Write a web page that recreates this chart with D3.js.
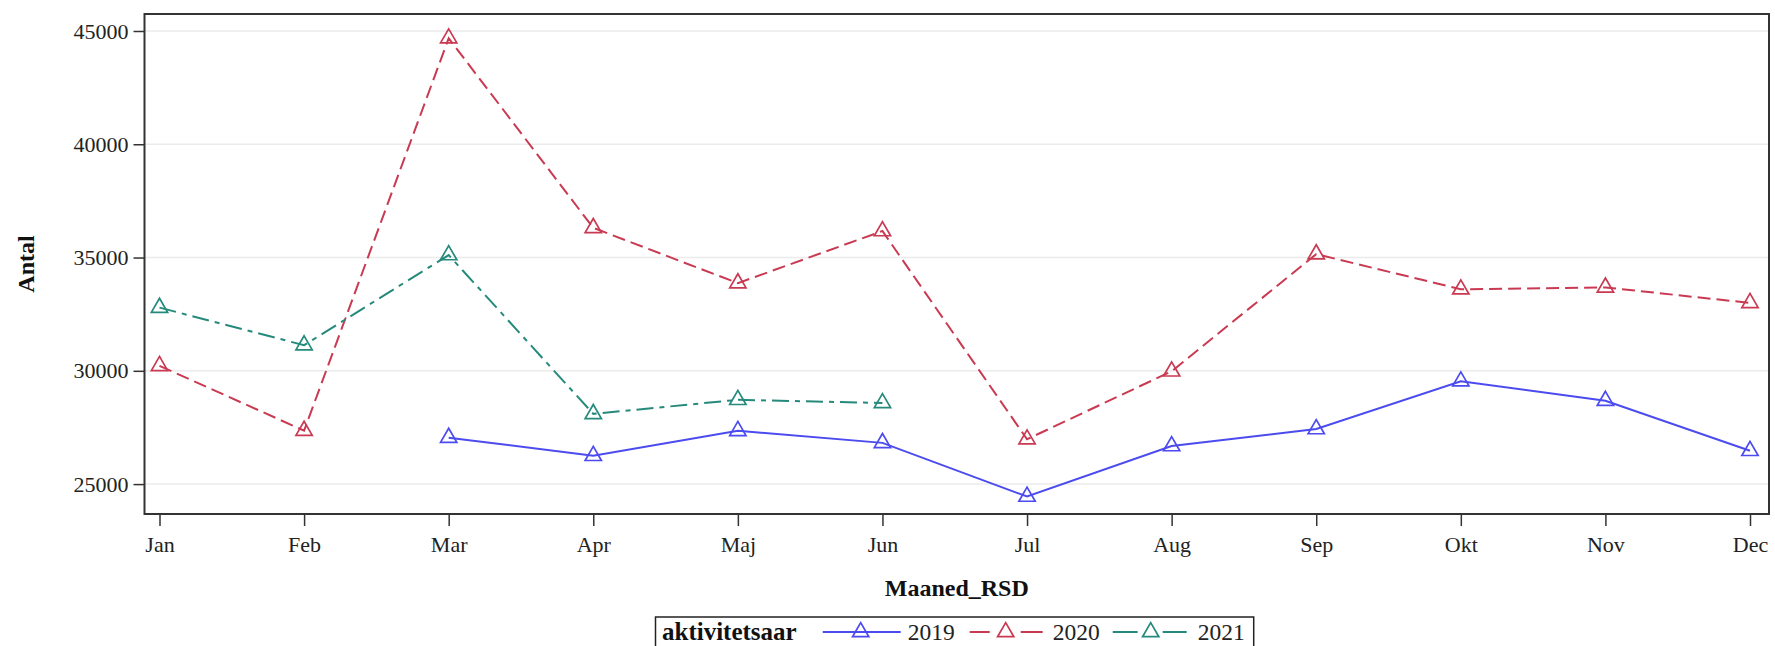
<!DOCTYPE html>
<html>
<head>
<meta charset="utf-8">
<script src="https://cdn.jsdelivr.net/npm/d3@7"></script>
<style>
  html, body { margin: 0; padding: 0; background: #fff; }
  svg { display: block; font-family: "Liberation Serif", "Times New Roman", serif; }
</style>
</head>
<body>
<svg id="chart" width="1775" height="646"></svg>
<script>
// months on the x axis
var months = ['Jan', 'Feb', 'Mar', 'Apr', 'Maj', 'Jun', 'Jul', 'Aug', 'Sep', 'Okt', 'Nov', 'Dec'];
var yTicks = [25000, 30000, 35000, 40000, 45000];

// aktivitetsaar series (null = no data)
var years = ['2019', '2020', '2021'];
var values2019 = [null, null, 27050, 26250, 27350, 26820, 24450, 26680, 27430, 29540, 28680, 26470];
var values2020 = [30220, 27360, 44680, 36310, 33870, 36170, 26980, 29980, 35150, 33600, 33680, 33000];
var values2021 = [32790, 31130, 35110, 28100, 28720, 28580, null, null, null, null, null, null];

var colors = ['#4b4bef', '#c93a52', '#258a7b'];
var dashes = [null, '13,6', '17,6,5,6'];
// legend sample segments, [from, to] along a 76px sample line
var legendSegments = [[[0, 78]], [[2, 22], [53, 75]], [[0, 25], [50, 74]]];

var svg = d3.select('#chart');

var plot = {left: 144.5, right: 1769, top: 14, bottom: 514};

var x = d3.scalePoint()
    .domain(months)
    .range([159.5, 1750]);

var y = d3.scaleLinear()
    .domain([23680, 45750])
    .range([plot.bottom, plot.top]);

// horizontal grid lines
svg.append('g')
    .selectAll('line')
    .data(yTicks)
    .join('line')
    .attr('x1', plot.left)
    .attr('x2', plot.right)
    .attr('y1', d => y(d))
    .attr('y2', d => y(d))
    .attr('stroke', '#ebebeb')
    .attr('stroke-width', 1.5);

// y axis
var yAxis = svg.append('g')
    .attr('transform', 'translate(' + plot.left + ',0)')
    .call(d3.axisLeft(y).tickValues(yTicks).tickSize(11).tickPadding(5).tickFormat(d3.format('d')));
yAxis.select('.domain').remove();
yAxis.selectAll('line').attr('stroke', '#333').attr('stroke-width', 1.5);
yAxis.selectAll('text')
    .attr('font-size', 22)
    .attr('fill', '#222')
    .attr('font-family', '"Liberation Serif", serif');

// x axis
var xAxis = svg.append('g')
    .attr('transform', 'translate(0,' + plot.bottom + ')')
    .call(d3.axisBottom(x).tickSize(12).tickPadding(10));
xAxis.select('.domain').remove();
xAxis.selectAll('line').attr('stroke', '#333').attr('stroke-width', 1.5);
xAxis.selectAll('text')
    .attr('font-size', 22)
    .attr('fill', '#222')
    .attr('font-family', '"Liberation Serif", serif');

// frame round the plot
svg.append('rect')
    .attr('x', plot.left)
    .attr('y', plot.top)
    .attr('width', plot.right - plot.left)
    .attr('height', plot.bottom - plot.top)
    .attr('fill', 'none')
    .attr('stroke', '#333')
    .attr('stroke-width', 2);

// axis titles
svg.append('text')
    .attr('transform', 'translate(34,' + ((plot.top + plot.bottom) / 2) + ') rotate(-90)')
    .attr('text-anchor', 'middle')
    .attr('font-size', 24)
    .attr('font-weight', 'bold')
    .attr('fill', '#111')
    .text('Antal');

svg.append('text')
    .attr('x', (plot.left + plot.right) / 2)
    .attr('y', 596)
    .attr('text-anchor', 'middle')
    .attr('font-size', 24)
    .attr('font-weight', 'bold')
    .attr('fill', '#111')
    .text('Maaned_RSD');

// series
var series = [values2019, values2020, values2021].map(function(vals, i) {
    return {
        year: years[i],
        color: colors[i],
        dash: dashes[i],
        segments: legendSegments[i],
        points: vals.map((v, j) => ({month: months[j], value: v})).filter(p => p.value !== null)
    };
});

var line = d3.line()
    .x(d => x(d.month))
    .y(d => y(d.value));

var triangle = d3.symbol().type(d3.symbolTriangle).size(115);

var seriesG = svg.append('g')
    .selectAll('g')
    .data(series)
    .join('g');

seriesG.append('path')
    .attr('d', d => line(d.points))
    .attr('fill', 'none')
    .attr('stroke', d => d.color)
    .attr('stroke-width', 2)
    .attr('stroke-dasharray', d => d.dash);

seriesG.selectAll('path.marker')
    .data(d => d.points.map(p => Object.assign({color: d.color}, p)))
    .join('path')
    .attr('class', 'marker')
    .attr('d', triangle)
    .attr('transform', d => 'translate(' + x(d.month) + ',' + y(d.value) + ')')
    .attr('fill', 'none')
    .attr('stroke', d => d.color)
    .attr('stroke-width', 1.7);

// legend at the bottom, boxed (its lower edge falls off the picture, as in the original)
var legend = svg.append('g');
var legendTop = 617;
var legendBase = 640;
var cursor = 662;

var legendTitle = legend.append('text')
    .attr('x', cursor)
    .attr('y', legendBase)
    .attr('font-size', 25)
    .attr('font-weight', 'bold')
    .attr('fill', '#111')
    .text('aktivitetsaar');
cursor += legendTitle.node().getComputedTextLength() + 26;

series.forEach(function(s) {
    var lineLen = 76;
    var midY = legendBase - 8;
    var start = cursor;
    s.segments.forEach(function(seg) {
        legend.append('line')
            .attr('x1', start + seg[0])
            .attr('x2', start + seg[1])
            .attr('y1', midY)
            .attr('y2', midY)
            .attr('stroke', s.color)
            .attr('stroke-width', 2);
    });
    legend.append('path')
        .attr('d', triangle)
        .attr('transform', 'translate(' + (start + lineLen / 2) + ',' + midY + ')')
        .attr('fill', 'none')
        .attr('stroke', s.color)
        .attr('stroke-width', 1.7);
    cursor += lineLen + 9;
    var t = legend.append('text')
        .attr('x', cursor)
        .attr('y', legendBase)
        .attr('font-size', 23.5)
        .attr('fill', '#222')
        .text(s.year);
    cursor += t.node().getComputedTextLength() + 13;
});

legend.insert('rect', ':first-child')
    .attr('x', 655.5)
    .attr('y', legendTop)
    .attr('width', cursor - 4 - 655.5)
    .attr('height', 40)
    .attr('fill', '#fff')
    .attr('stroke', '#222')
    .attr('stroke-width', 1.5);
</script>
</body>
</html>
